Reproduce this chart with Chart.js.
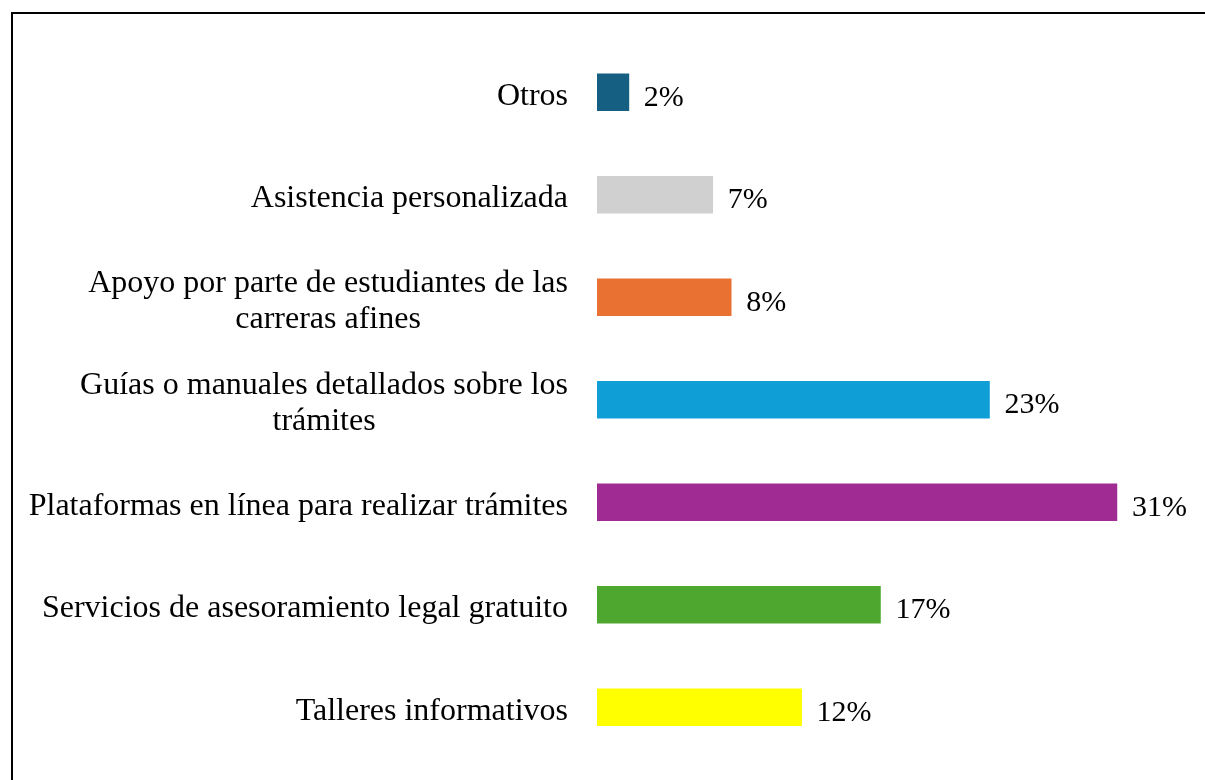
<!DOCTYPE html>
<html>
<head>
<meta charset="utf-8">
<script src="https://cdn.jsdelivr.net/npm/chart.js@4/dist/chart.umd.min.js"></script>
<style>
  html, body { margin: 0; padding: 0; background: #fff; overflow: hidden; }
  #frame {
    position: absolute; left: 11px; top: 12px; right: 0; bottom: 0;
    border-left: 2px solid #000; border-top: 2px solid #000;
  }
  #chart { position: absolute; left: 0; top: 0; }
</style>
</head>
<body>
<div id="frame"></div>
<canvas id="chart" width="1205" height="780"></canvas>
<script>
// top to bottom as in the figure
const categories = [
  ['Otros'],
  ['Asistencia personalizada'],
  ['Apoyo por parte de estudiantes de las', 'carreras afines'],
  ['Guías o manuales detallados sobre los', 'trámites'],
  ['Plataformas en línea para realizar trámites'],
  ['Servicios de asesoramiento legal gratuito'],
  ['Talleres informativos'],
];
const values = [1.9, 6.9, 8.0, 23.4, 31.0, 16.9, 12.2];
const colors = ['#156082', '#D0D0D0', '#E97132', '#0F9ED5', '#A02B93', '#4EA72E', '#FFFF00'];

const FONT = '"Liberation Serif", "Times New Roman", serif';

const el = (id) => document.getElementById(id);

// category names to the left of the bars, centred block, right aligned at the bar start
const catLabels = {
  id: 'catLabels',
  afterDatasetsDraw(chart) {
    const { ctx, scales: { x, y } } = chart;
    const right = x.left - 29;
    const lineH = 36;
    ctx.save();
    ctx.fillStyle = '#000';
    ctx.font = `32px ${FONT}`;
    ctx.textBaseline = 'alphabetic';
    ctx.textAlign = 'center';
    categories.forEach((lines, i) => {
      const cy = y.getPixelForValue(i);
      const w = Math.max(...lines.map(l => ctx.measureText(l).width));
      const cx = right - w / 2;
      lines.forEach((line, j) => {
        const by = cy + 12.5 + (j - (lines.length - 1) / 2) * lineH;
        ctx.fillText(line, cx, by);
      });
    });
    ctx.restore();
  },
};

// percentage labels after each bar
const valueLabels = {
  id: 'valueLabels',
  afterDatasetsDraw(chart) {
    const { ctx, scales: { x, y } } = chart;
    ctx.save();
    ctx.fillStyle = '#000';
    ctx.font = `30px ${FONT}`;
    ctx.textAlign = 'left';
    ctx.textBaseline = 'alphabetic';
    values.forEach((v, i) => {
      ctx.fillText(`${Math.round(v)}%`, x.getPixelForValue(v) + 15, y.getPixelForValue(i) + 13.5);
    });
    ctx.restore();
  },
};

new Chart(el('chart'), {
  type: 'bar',
  data: {
    labels: categories,
    datasets: [{
      data: values,
      backgroundColor: colors,
      borderWidth: 0,
      barThickness: 37,
    }],
  },
  options: {
    indexAxis: 'y',
    responsive: false,
    animation: false,
    layout: { padding: { left: 597, right: 21, top: 41, bottom: 21.5 } },
    scales: {
      x: { display: false, min: 0, max: 35 },
      y: { display: false },
    },
    plugins: {
      legend: { display: false },
      tooltip: { enabled: false },
    },
  },
  plugins: [catLabels, valueLabels],
});
</script>
</body>
</html>
